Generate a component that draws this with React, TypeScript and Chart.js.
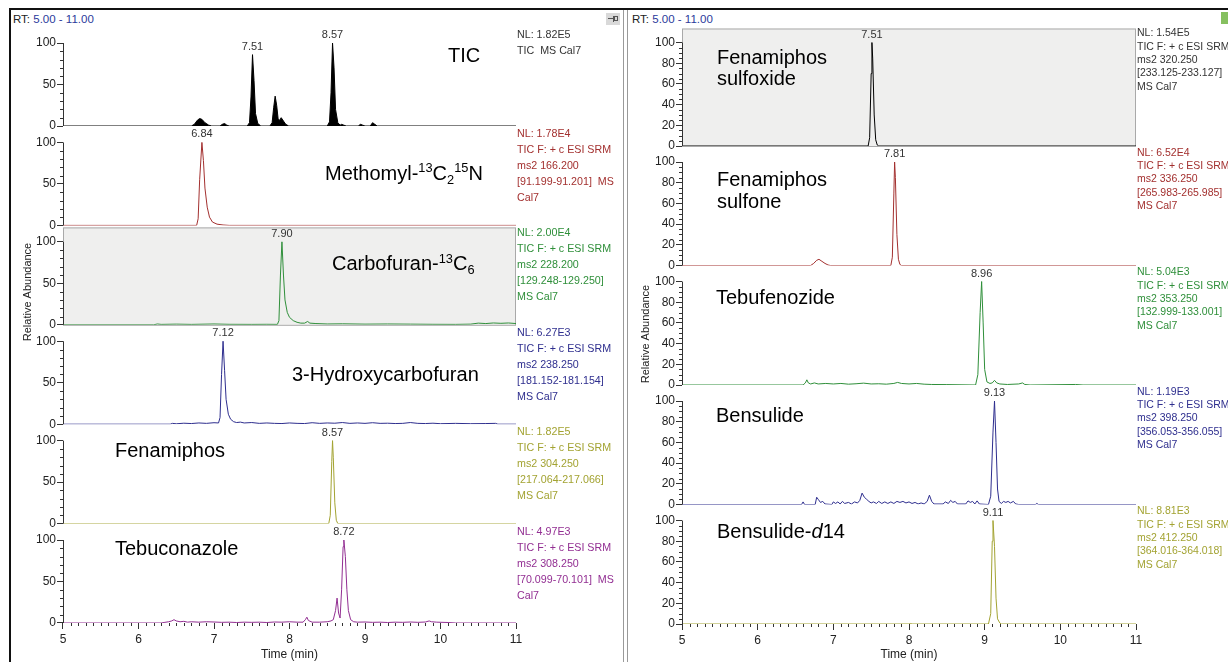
import React, { useEffect, useRef } from 'react';
import { Chart, registerables } from 'chart.js';

Chart.register(...registerables);

type Pt = [number, number];

// ---------- axis tick values ----------
const timeTicks = [5, 6, 7, 8, 9, 10, 11];
const leftAbundanceTicks = [0, 50, 100];
const rightAbundanceTicks = [0, 20, 40, 60, 80, 100];

// ---------- left panel traces: [time (min), relative abundance] ----------
const ticTrace: Pt[] = [
  [5.0, 0], [6.70, 0], [6.74, 2], [6.78, 7], [6.81, 9], [6.84, 8], [6.88, 4], [6.93, 1], [6.97, 0],
  [7.08, 0], [7.11, 2], [7.14, 3], [7.17, 1], [7.20, 0],
  [7.44, 0], [7.47, 4], [7.49, 35], [7.51, 86], [7.53, 55], [7.55, 15], [7.58, 3], [7.62, 0],
  [7.74, 0], [7.77, 4], [7.79, 22], [7.81, 36], [7.83, 25], [7.85, 8], [7.87, 7], [7.89, 10], [7.92, 6], [7.95, 2], [7.99, 0],
  [8.50, 0], [8.53, 5], [8.55, 40], [8.57, 100], [8.59, 70], [8.61, 20], [8.64, 4], [8.67, 1],
  [8.69, 2], [8.72, 1], [8.75, 0],
  [8.91, 0], [8.94, 2], [8.97, 1], [9.0, 0],
  [9.07, 0], [9.10, 4], [9.13, 2], [9.16, 0],
  [11.0, 0],
];
const ticPeaks: Pt[] = [[7.51, 86], [8.57, 100]];

const methomylTrace: Pt[] = [
  [5.0, 0], [6.77, 0], [6.79, 8], [6.81, 55], [6.84, 100], [6.86, 78], [6.88, 45], [6.91, 22],
  [6.94, 10], [6.98, 4], [7.04, 1.5], [7.12, 0.5], [7.2, 0], [11.0, 0],
];
const methomylPeaks: Pt[] = [[6.84, 100]];

const carbofuranTrace: Pt[] = [
  [5.0, 0], [6.2, 0], [6.25, 1], [6.3, 0.5], [6.5, 0.8], [6.7, 0.5], [7.0, 1], [7.2, 0.6], [7.5, 0.5],
  [7.7, 0.6], [7.84, 0.5], [7.86, 5], [7.88, 60], [7.90, 100], [7.92, 60], [7.94, 30], [7.97, 15],
  [8.0, 9], [8.05, 5], [8.1, 3], [8.15, 2], [8.2, 2], [8.24, 4], [8.27, 2], [8.35, 1.5], [8.5, 1],
  [8.7, 1.2], [9.0, 0.8], [9.3, 1], [9.6, 0.8], [9.9, 0.6], [10.2, 0.5], [10.4, 0.8], [10.5, 2],
  [10.6, 1.5], [10.7, 2.2], [10.8, 1.8], [10.9, 2.2], [11.0, 1.5],
];
const carbofuranPeaks: Pt[] = [[7.90, 100]];

const hydroxyTrace: Pt[] = [
  [5.0, 0], [6.42, 0], [6.45, 1], [6.5, 0.5], [6.6, 1.2], [6.7, 0.8], [6.8, 1.5], [6.9, 1], [7.0, 1.8],
  [7.06, 1.5], [7.08, 8], [7.10, 60], [7.12, 100], [7.14, 65], [7.16, 30], [7.19, 12], [7.22, 6],
  [7.26, 3], [7.3, 2], [7.35, 2.5], [7.4, 1.5], [7.5, 2], [7.6, 1], [7.7, 1.5], [7.8, 1], [7.9, 0.8],
  [8.0, 1.5], [8.1, 1], [8.2, 0.8], [8.3, 1.8], [8.4, 1], [8.5, 1.5], [8.6, 1.2], [8.7, 2], [8.8, 1],
  [8.9, 1.5], [9.0, 1], [9.1, 1.8], [9.2, 1], [9.3, 1.2], [9.4, 0.8], [9.5, 1], [9.6, 2], [9.7, 1],
  [9.8, 0.8], [9.9, 1.2], [10.0, 0.6], [10.2, 1], [10.4, 0.6], [10.6, 0.8], [10.73, 1], [10.76, 0], [11.0, 0],
];
const hydroxyPeaks: Pt[] = [[7.12, 100]];

const fenamiphosTrace: Pt[] = [
  [5.0, 0], [8.52, 0], [8.54, 10], [8.56, 75], [8.57, 100], [8.58, 80], [8.60, 25], [8.62, 4], [8.64, 0], [11.0, 0],
];
const fenamiphosPeaks: Pt[] = [[8.57, 100]];

const tebuconazoleTrace: Pt[] = [
  [5.0, 0], [6.3, 0], [6.35, 0.8], [6.4, 1.5], [6.44, 2.5], [6.47, 4], [6.5, 2.5], [6.55, 1.5], [6.6, 2],
  [6.65, 1], [6.7, 1.5], [6.8, 1], [6.9, 1.5], [7.0, 1.2], [7.1, 0.8], [7.2, 1], [7.3, 0.6], [7.4, 1],
  [7.5, 0.8], [7.6, 1], [7.7, 0.6], [7.8, 1.2], [7.9, 1], [8.0, 1.5], [8.1, 1], [8.18, 1], [8.21, 4],
  [8.23, 7], [8.25, 3], [8.3, 1], [8.4, 1], [8.5, 1.5], [8.55, 2.5], [8.58, 4], [8.61, 15], [8.63, 30],
  [8.65, 12], [8.67, 6], [8.69, 40], [8.71, 92], [8.72, 100], [8.74, 80], [8.76, 40], [8.78, 15],
  [8.81, 4], [8.85, 1.5], [8.9, 1], [9.0, 1.2], [9.1, 0.8], [9.2, 1], [9.3, 0.6], [9.4, 1], [9.5, 0.8],
  [9.6, 1.2], [9.7, 0.8], [9.8, 1.2], [9.85, 2.5], [9.88, 1.5], [9.95, 1], [10.1, 0.6], [10.2, 0], [11.0, 0],
];
const tebuconazolePeaks: Pt[] = [[8.72, 100]];

// ---------- right panel traces ----------
const sulfoxideTrace: Pt[] = [
  [5.0, 0], [7.46, 0], [7.48, 8], [7.50, 70], [7.51, 100], [7.52, 85], [7.54, 30], [7.56, 6], [7.58, 1], [7.6, 0], [11.0, 0],
];
const sulfoxidePeaks: Pt[] = [[7.51, 100]];

const sulfoneTrace: Pt[] = [
  [5.0, 0], [6.70, 0], [6.74, 2], [6.78, 5], [6.81, 6], [6.85, 4], [6.89, 2], [6.93, 0.5], [6.96, 0],
  [7.76, 0], [7.78, 8], [7.80, 70], [7.81, 100], [7.82, 85], [7.84, 30], [7.86, 6], [7.88, 1], [7.9, 0], [11.0, 0],
];
const sulfonePeaks: Pt[] = [[7.81, 100]];

const tebufenozideTrace: Pt[] = [
  [5.0, 0], [6.60, 0], [6.63, 2], [6.65, 5], [6.67, 2], [6.7, 1], [6.75, 2], [6.8, 1], [6.9, 1.5], [7.0, 1],
  [7.1, 1.5], [7.2, 0.8], [7.3, 1.2], [7.4, 1.8], [7.5, 1], [7.6, 1.2], [7.7, 0.8], [7.8, 1.5], [7.85, 2.5],
  [7.9, 1.5], [8.0, 1], [8.1, 1.5], [8.2, 0.8], [8.3, 0.5], [8.5, 0.4], [8.88, 0], [8.91, 10], [8.94, 70],
  [8.96, 100], [8.98, 60], [9.0, 15], [9.03, 3], [9.07, 1.5], [9.1, 2], [9.13, 4.5], [9.16, 2], [9.2, 1],
  [9.3, 0.5], [9.45, 1], [9.5, 2], [9.53, 0.5], [9.6, 0], [10.2, 0.5], [10.3, 0], [11.0, 0],
];
const tebufenozidePeaks: Pt[] = [[8.96, 100]];

const bensulideTrace: Pt[] = [
  [5.0, 0], [6.58, 0], [6.60, 2.5], [6.62, 0], [6.76, 0], [6.78, 7], [6.80, 5], [6.83, 2], [6.86, 3],
  [6.89, 0.5], [6.98, 0], [7.0, 2.5], [7.03, 1], [7.06, 2.5], [7.09, 0.5], [7.12, 3], [7.15, 1], [7.2, 2],
  [7.24, 0.5], [7.28, 2.5], [7.32, 1.5], [7.35, 4], [7.38, 11], [7.41, 7], [7.44, 5], [7.47, 3], [7.5, 1.5],
  [7.53, 2.5], [7.57, 1], [7.6, 3], [7.64, 1], [7.68, 2.5], [7.72, 1], [7.76, 2.5], [7.8, 1], [7.84, 3],
  [7.88, 2], [7.92, 3], [7.96, 1.5], [8.0, 2.5], [8.04, 1], [8.08, 2], [8.12, 0.5], [8.16, 1.5], [8.2, 0.5],
  [8.24, 3], [8.27, 9], [8.30, 3], [8.33, 0.5], [8.45, 0.5], [8.48, 2.5], [8.52, 1], [8.55, 4], [8.58, 2],
  [8.61, 3], [8.64, 0.5], [8.75, 0.5], [8.78, 3.5], [8.81, 2], [8.84, 3], [8.87, 0.5], [8.9, 3.5], [8.93, 0.5],
  [9.05, 0], [9.08, 8], [9.11, 70], [9.13, 100], [9.15, 60], [9.17, 15], [9.19, 3], [9.22, 1], [9.25, 3],
  [9.28, 2], [9.31, 3], [9.34, 1.5], [9.38, 3], [9.41, 0.5], [9.45, 0], [9.67, 0], [9.69, 1], [9.71, 0], [11.0, 0],
];
const bensulidePeaks: Pt[] = [[9.13, 100]];

const bensulideD14Trace: Pt[] = [
  [5.0, 0], [8.0, 0], [8.02, 0.5], [8.04, 0], [9.05, 0], [9.08, 10], [9.10, 80], [9.11, 100], [9.13, 75],
  [9.15, 25], [9.17, 5], [9.2, 1], [9.22, 0], [11.0, 0],
];
const bensulideD14Peaks: Pt[] = [[9.11, 100]];

// ---------- text ----------
const srm = 'TIC F: + c ESI SRM';
const ticNotes = ['NL: 1.82E5', 'TIC  MS Cal7'];
const methomylNotes = ['NL: 1.78E4', srm, 'ms2 166.200', '[91.199-91.201]  MS', 'Cal7'];
const carbofuranNotes = ['NL: 2.00E4', srm, 'ms2 228.200', '[129.248-129.250]', 'MS Cal7'];
const hydroxyNotes = ['NL: 6.27E3', srm, 'ms2 238.250', '[181.152-181.154]', 'MS Cal7'];
const fenamiphosNotes = ['NL: 1.82E5', srm, 'ms2 304.250', '[217.064-217.066]', 'MS Cal7'];
const tebuconazoleNotes = ['NL: 4.97E3', srm, 'ms2 308.250', '[70.099-70.101]  MS', 'Cal7'];
const sulfoxideNotes = ['NL: 1.54E5', srm, 'ms2 320.250', '[233.125-233.127]', 'MS Cal7'];
const sulfoneNotes = ['NL: 6.52E4', srm, 'ms2 336.250', '[265.983-265.985]', 'MS Cal7'];
const tebufenozideNotes = ['NL: 5.04E3', srm, 'ms2 353.250', '[132.999-133.001]', 'MS Cal7'];
const bensulideNotes = ['NL: 1.19E3', srm, 'ms2 398.250', '[356.053-356.055]', 'MS Cal7'];
const bensulideD14Notes = ['NL: 8.81E3', srm, 'ms2 412.250', '[364.016-364.018]', 'MS Cal7'];

type Seg = { t: string; sup?: boolean; sub?: boolean; italic?: boolean };

const FONT = '"Liberation Sans", Arial, Helvetica, sans-serif';

const C = {
  black: '#000000',
  red: '#a3302f',
  green: '#2f8f3a',
  blue: '#2e2e8e',
  olive: '#a3a332',
  purple: '#922e92',
};

interface Sub {
  color: string;
  noteColor: string;
  trace: Pt[];
  peaks: Pt[];
  notes: string[];
  label: Seg[][];
  labelDx: number;
  labelDy: number;
  fill?: boolean;
  gray?: boolean;
}

interface PanelCfg {
  canvasLeft: number;
  canvasWidth: number;
  padLeft: number;
  padRight: number;
  padTop: number;
  xAxisHeight: number;
  yMax: number;
  majorTicks: number[];
  minorStep: number;
  noteFont: number;
  noteTop: number;
  noteStep: number;
  labelFont: number;
  labelLine: number;
  yTitleX: number;
  yTitleY: number;
  subs: Sub[];
}

const leftPanel: PanelCfg = {
  canvasLeft: 0,
  canvasWidth: 622,
  padLeft: 23,
  padRight: 106,
  padTop: 26.6,
  xAxisHeight: 39,
  yMax: 119.8,
  majorTicks: leftAbundanceTicks,
  minorStep: 10,
  noteFont: 10.7,
  noteTop: 8,
  noteStep: 16,
  labelFont: 20,
  labelLine: 21.5,
  yTitleX: 28,
  yTitleY: 292,
  subs: [
    { color: C.black, noteColor: '#333', trace: ticTrace, peaks: ticPeaks, notes: ticNotes, fill: true,
      label: [[{ t: 'TIC' }]], labelDx: 385, labelDy: 12 },
    { color: C.red, noteColor: C.red, trace: methomylTrace, peaks: methomylPeaks, notes: methomylNotes,
      label: [[{ t: 'Methomyl-' }, { t: '13', sup: true }, { t: 'C' }, { t: '2', sub: true }, { t: '15', sup: true }, { t: 'N' }]],
      labelDx: 262, labelDy: 30 },
    { color: C.green, noteColor: C.green, trace: carbofuranTrace, peaks: carbofuranPeaks, notes: carbofuranNotes, gray: true,
      label: [[{ t: 'Carbofuran-' }, { t: '13', sup: true }, { t: 'C' }, { t: '6', sub: true }]],
      labelDx: 269, labelDy: 21 },
    { color: C.blue, noteColor: C.blue, trace: hydroxyTrace, peaks: hydroxyPeaks, notes: hydroxyNotes,
      label: [[{ t: '3-Hydroxycarbofuran' }]], labelDx: 229, labelDy: 33 },
    { color: C.olive, noteColor: C.olive, trace: fenamiphosTrace, peaks: fenamiphosPeaks, notes: fenamiphosNotes,
      label: [[{ t: 'Fenamiphos' }]], labelDx: 52, labelDy: 9 },
    { color: C.purple, noteColor: C.purple, trace: tebuconazoleTrace, peaks: tebuconazolePeaks, notes: tebuconazoleNotes,
      label: [[{ t: 'Tebuconazole' }]], labelDx: 52, labelDy: 8 },
  ],
};

const rightPanel: PanelCfg = {
  canvasLeft: 628,
  canvasWidth: 600,
  padLeft: 14,
  padRight: 92,
  padTop: 26.5,
  xAxisHeight: 38,
  yMax: 115.5,
  majorTicks: rightAbundanceTicks,
  minorStep: 5,
  noteFont: 10.5,
  noteTop: 7,
  noteStep: 13.3,
  labelFont: 20,
  labelLine: 21.5,
  yTitleX: 18,
  yTitleY: 334,
  subs: [
    { color: C.black, noteColor: '#333', trace: sulfoxideTrace, peaks: sulfoxidePeaks, notes: sulfoxideNotes, gray: true,
      label: [[{ t: 'Fenamiphos' }], [{ t: 'sulfoxide' }]], labelDx: 35, labelDy: 14 },
    { color: C.red, noteColor: C.red, trace: sulfoneTrace, peaks: sulfonePeaks, notes: sulfoneNotes,
      label: [[{ t: 'Fenamiphos' }], [{ t: 'sulfone' }]], labelDx: 35, labelDy: 17 },
    { color: C.green, noteColor: C.green, trace: tebufenozideTrace, peaks: tebufenozidePeaks, notes: tebufenozideNotes,
      label: [[{ t: 'Tebufenozide' }]], labelDx: 34, labelDy: 15 },
    { color: C.blue, noteColor: C.blue, trace: bensulideTrace, peaks: bensulidePeaks, notes: bensulideNotes,
      label: [[{ t: 'Bensulide' }]], labelDx: 34, labelDy: 14 },
    { color: C.olive, noteColor: C.olive, trace: bensulideD14Trace, peaks: bensulideD14Peaks, notes: bensulideD14Notes,
      label: [[{ t: 'Bensulide-' }, { t: 'd', italic: true }, { t: '14' }]], labelDx: 35, labelDy: 10 },
  ],
};

function drawSegs(ctx: CanvasRenderingContext2D, segs: Seg[], x: number, yCenter: number, size: number) {
  const base = yCenter + size * 0.36;
  let cx = x;
  ctx.textBaseline = 'alphabetic';
  ctx.textAlign = 'left';
  for (const s of segs) {
    const fs = s.sup || s.sub ? size * 0.64 : size;
    ctx.font = `${s.italic ? 'italic ' : ''}${fs}px ${FONT}`;
    const dy = s.sup ? -size * 0.36 : s.sub ? size * 0.2 : 0;
    ctx.fillText(s.t, cx, base + dy);
    cx += ctx.measureText(s.t).width;
  }
}

function makePlugin(cfg: PanelCfg) {
  return {
    id: 'chromDecor',
    beforeDraw(chart: any) {
      const ctx: CanvasRenderingContext2D = chart.ctx;
      const ca = chart.chartArea;
      cfg.subs.forEach((s, i) => {
        if (!s.gray) return;
        const sc = chart.scales['y' + i];
        const y0 = sc.getPixelForValue(0);
        const yt = sc.top + 2;
        ctx.save();
        ctx.fillStyle = '#efefee';
        ctx.fillRect(ca.left, yt, ca.right - ca.left, y0 - yt);
        ctx.strokeStyle = '#a9a9a9';
        ctx.lineWidth = 1;
        ctx.strokeRect(ca.left + 0.5, yt + 0.5, ca.right - ca.left - 1, y0 - yt);
        ctx.restore();
      });
    },
    afterDraw(chart: any) {
      const ctx: CanvasRenderingContext2D = chart.ctx;
      const ca = chart.chartArea;
      const xs = chart.scales.x;
      ctx.save();
      cfg.subs.forEach((s, i) => {
        const sc = chart.scales['y' + i];
        const p0 = sc.getPixelForValue(0);
        const p100 = sc.getPixelForValue(100);
        // axis line
        ctx.strokeStyle = '#333';
        ctx.lineWidth = 1;
        ctx.beginPath();
        ctx.moveTo(ca.left + 0.5, p100);
        ctx.lineTo(ca.left + 0.5, p0);
        ctx.stroke();
        // minor ticks
        ctx.beginPath();
        for (let v = 0; v <= 100; v += cfg.minorStep) {
          if (cfg.majorTicks.indexOf(v) >= 0) continue;
          const py = Math.round(sc.getPixelForValue(v)) + 0.5;
          ctx.moveTo(ca.left - 3, py);
          ctx.lineTo(ca.left, py);
        }
        ctx.stroke();
        // peak labels
        ctx.fillStyle = '#333';
        ctx.font = `11px ${FONT}`;
        ctx.textAlign = 'center';
        ctx.textBaseline = 'middle';
        s.peaks.forEach(([t, h]) => {
          ctx.fillText(t.toFixed(2), xs.getPixelForValue(t), sc.getPixelForValue(h) - 8);
        });
        // right-hand notes
        ctx.fillStyle = s.noteColor;
        ctx.font = `${cfg.noteFont}px ${FONT}`;
        ctx.textAlign = 'left';
        ctx.textBaseline = 'middle';
        s.notes.forEach((n, k) => {
          ctx.fillText(n, ca.right + 1, sc.top + cfg.noteTop + k * cfg.noteStep);
        });
        // compound label
        ctx.fillStyle = '#000';
        s.label.forEach((line, k) => {
          drawSegs(ctx, line, ca.left + s.labelDx, p100 + s.labelDy + k * cfg.labelLine, cfg.labelFont);
        });
      });
      // x minor ticks
      ctx.strokeStyle = '#333';
      ctx.lineWidth = 1;
      ctx.beginPath();
      for (let k = 50; k <= 110; k++) {
        if (k % 10 === 0) continue;
        const px = Math.round(xs.getPixelForValue(k / 10)) + 0.5;
        ctx.moveTo(px, ca.bottom);
        ctx.lineTo(px, ca.bottom + 3);
      }
      ctx.stroke();
      // y title
      ctx.fillStyle = '#222';
      ctx.font = `11px ${FONT}`;
      ctx.textAlign = 'center';
      ctx.textBaseline = 'middle';
      ctx.translate(cfg.yTitleX, cfg.yTitleY);
      ctx.rotate(-Math.PI / 2);
      ctx.fillText('Relative Abundance', 0, 0);
      ctx.restore();
    },
  };
}

function buildConfig(cfg: PanelCfg): any {
  const n = cfg.subs.length;
  const scales: any = {
    x: {
      type: 'linear',
      position: 'bottom',
      min: 5,
      max: 11,
      afterBuildTicks: (ax: any) => { ax.ticks = timeTicks.map((v) => ({ value: v })); },
      afterFit: (ax: any) => { ax.height = cfg.xAxisHeight; },
      ticks: { font: { family: FONT, size: 12 }, color: '#222', padding: 3, maxRotation: 0, autoSkip: false },
      grid: { display: true, drawOnChartArea: false, drawTicks: true, tickLength: 6, color: '#333' },
      border: { display: false },
      title: { display: true, text: 'Time (min)', font: { family: FONT, size: 12 }, color: '#222', padding: { top: 0, bottom: 0 } },
    },
  };
  cfg.subs.forEach((_s, i) => {
    scales['y' + i] = {
      type: 'linear',
      position: 'left',
      stack: 'abundance',
      stackWeight: 1,
      weight: n - i,
      min: 0,
      max: cfg.yMax,
      afterBuildTicks: (ax: any) => { ax.ticks = cfg.majorTicks.map((v) => ({ value: v })); },
      afterFit: (ax: any) => { ax.width = 40; },
      ticks: { font: { family: FONT, size: 12 }, color: '#222', padding: 1, autoSkip: false },
      grid: { display: true, drawOnChartArea: false, drawTicks: true, tickLength: 6, color: '#333' },
      border: { display: false },
    };
  });
  return {
    type: 'line',
    data: {
      datasets: cfg.subs.map((s, i) => ({
        data: s.trace.map(([x, y]) => ({ x, y })),
        xAxisID: 'x',
        yAxisID: 'y' + i,
        borderColor: s.color,
        backgroundColor: s.color,
        borderWidth: 1,
        pointRadius: 0,
        tension: 0,
        fill: s.fill ? 'origin' : false,
      })),
    },
    options: {
      animation: false,
      responsive: false,
      maintainAspectRatio: false,
      events: [],
      layout: { padding: { left: cfg.padLeft, right: cfg.padRight, top: cfg.padTop, bottom: 0 } },
      plugins: { legend: { display: false }, tooltip: { enabled: false } },
      scales,
    },
    plugins: [makePlugin(cfg)],
  };
}

function Panel({ cfg }: { cfg: PanelCfg }) {
  const ref = useRef<HTMLCanvasElement | null>(null);
  useEffect(() => {
    if (!ref.current) return;
    const chart = new Chart(ref.current, buildConfig(cfg));
    return () => chart.destroy();
  }, [cfg]);
  return (
    <canvas
      ref={ref}
      width={cfg.canvasWidth}
      height={662}
      style={{ position: 'absolute', left: cfg.canvasLeft, top: 0, width: cfg.canvasWidth, height: 662 }}
    />
  );
}

const rtStyle: React.CSSProperties = {
  position: 'absolute', top: 12, fontFamily: FONT, fontSize: 11.5, color: '#222', whiteSpace: 'nowrap', lineHeight: '14px',
};

export default function App() {
  return (
    <div style={{ position: 'absolute', left: 0, top: 0, width: 1228, height: 662, overflow: 'hidden', background: '#fff' }}>
      {/* frame */}
      <div style={{ position: 'absolute', left: 9, top: 8, width: 1219, height: 2, background: '#111' }} />
      <div style={{ position: 'absolute', left: 9, top: 8, width: 2, height: 654, background: '#111' }} />
      <div style={{ position: 'absolute', left: 623, top: 10, width: 1, height: 652, background: '#9a9a9a' }} />
      <div style={{ position: 'absolute', left: 627, top: 10, width: 1, height: 652, background: '#9a9a9a' }} />
      {/* pin icon */}
      <div style={{ position: 'absolute', left: 606, top: 13, width: 14, height: 12, background: '#d9d9d9' }}>
        <div style={{ position: 'absolute', left: 2, top: 5, width: 5, height: 1, background: '#555' }} />
        <div style={{ position: 'absolute', left: 7, top: 3, width: 1, height: 6, background: '#555' }} />
        <div style={{ position: 'absolute', left: 8, top: 3, width: 4, height: 5, border: '1px solid #555', boxSizing: 'border-box' }} />
      </div>
      <div style={{ position: 'absolute', left: 1221, top: 12, width: 7, height: 12, background: '#86c060' }} />
      <div style={{ ...rtStyle, left: 13 }}>RT: <span style={{ color: '#2b3a9c' }}>5.00 - 11.00</span></div>
      <div style={{ ...rtStyle, left: 632 }}>RT: <span style={{ color: '#2b3a9c' }}>5.00 - 11.00</span></div>
      <Panel cfg={leftPanel} />
      <Panel cfg={rightPanel} />
    </div>
  );
}
